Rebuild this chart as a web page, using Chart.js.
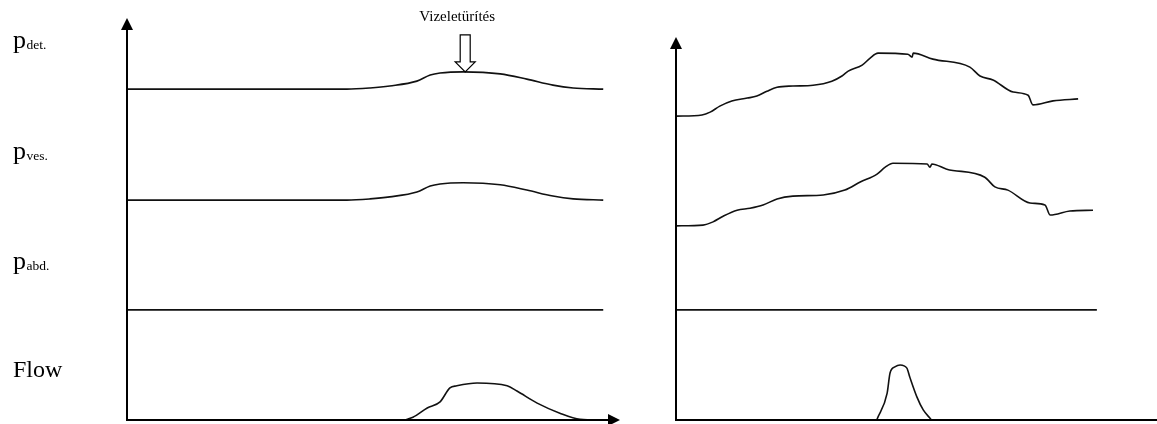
<!DOCTYPE html>
<html>
<head>
<meta charset="utf-8">
<script src="https://cdn.jsdelivr.net/npm/chart.js@4.4.1/dist/chart.umd.min.js"></script>
<style>
  body { margin: 0; background: #fff; }
  #wrap { position: relative; width: 1157px; height: 424px; }
  canvas { position: absolute; top: 0; }
  #normal { left: 0; width: 640px; height: 424px; }
  #abnormal { left: 640px; width: 517px; height: 424px; }
</style>
</head>
<body>
<div id="wrap">
  <canvas id="normal" width="640" height="424"></canvas>
  <canvas id="abnormal" width="517" height="424"></canvas>
</div>
<script>
// Left panel: normal voiding (time in arbitrary units 0-100, traces stacked on one level scale)
const leftTime = [0, 44.6, 49.3, 53.3, 58.8, 61.5, 63.5, 68.2, 75.7, 81.1, 86.4, 90.5, 96.6];
const leftDet = [82.3, 82.3, 82.6, 83.1, 84.3, 85.8, 86.3, 86.6, 86.1, 84.8, 83.3, 82.6, 82.3];
const leftVes = [54.7, 54.7, 55.0, 55.5, 56.7, 58.2, 58.7, 59.0, 58.5, 57.2, 55.7, 55.0, 54.7];
const leftAbdTime = [0, 96.6];
const leftAbd = [27.4, 27.4];
const leftFlowTime = [0, 55.8, 58.0, 60.9, 63.5, 65.5, 66.9, 71.0, 77.1, 79.1, 83.2, 87.8, 91.9, 96.6];
const leftFlow = [0, 0, 0.7, 3.0, 4.5, 8.0, 8.5, 9.2, 8.5, 7.2, 4.2, 1.7, 0.2, 0];

// Right panel: detrusor instability
const rightDetTime = [0, 5.4, 7.1, 9.1, 11.6, 14.8, 16.8, 18.9, 21.0, 24.3, 28.5, 32.4, 34.5, 35.8, 38.7, 40.3, 42.0, 48.2, 49.1, 49.3, 53.4, 61.1, 63.2, 65.9, 70.1, 73.2, 74.2, 78.4, 83.6];
const rightDet = [75.6, 75.9, 76.6, 78.1, 79.4, 80.1, 80.6, 81.8, 82.8, 83.1, 83.3, 84.3, 85.6, 86.8, 88.3, 90.0, 91.3, 91.0, 90.3, 91.3, 89.8, 87.8, 85.6, 84.6, 81.6, 80.8, 78.4, 79.4, 79.9];
const rightVesTime = [0, 5.6, 7.7, 9.8, 12.7, 15.4, 18.1, 21.0, 24.3, 30.6, 35.1, 38.3, 41.8, 43.5, 45.1, 52.2, 52.8, 53.2, 56.3, 64.2, 66.3, 69.0, 73.6, 76.7, 77.8, 81.9, 86.7];
const rightVes = [48.3, 48.5, 49.3, 50.7, 52.2, 52.7, 53.5, 55.0, 55.7, 56.0, 57.2, 59.2, 61.2, 62.9, 63.9, 63.7, 62.9, 63.7, 62.4, 60.4, 58.0, 57.2, 54.0, 53.5, 51.0, 52.0, 52.2];
const rightAbdTime = [0, 87.5];
const rightAbd = [27.4, 27.4];
const rightFlowTime = [41.8, 43.9, 44.5, 45.5, 46.6, 48.0, 48.6, 50.1, 51.4, 53.0];
const rightFlow = [0.2, 6.7, 11.7, 13.2, 13.7, 12.9, 10.7, 5.7, 2.5, 0.2];

// channel labels and the level each trace rests on
const labelMain = ['p', 'p', 'p', 'Flow'];
const labelSub = ['det.', 'ves.', 'abd.', ''];
const labelLevel = [82.3, 54.7, 27.4, 0];

const voidingText = 'Vizeletürítés';
const voidingAt = 68.6;

function zip(xs, ys) {
    return xs.map(function(x, i) { return { x: x, y: ys[i] }; });
}

function trace(xs, ys) {
    return {
        data: zip(xs, ys),
        borderColor: '#111',
        borderWidth: 1.6,
        pointRadius: 0,
        cubicInterpolationMode: 'monotone',
        clip: false,
        fill: false
    };
}

// Draw the two axes with arrow heads
const axisArrows = {
    id: 'axisArrows',
    afterDatasetsDraw(chart, args, opts) {
        const ctx = chart.ctx;
        const a = chart.chartArea;
        ctx.save();
        ctx.strokeStyle = '#000';
        ctx.fillStyle = '#000';
        ctx.lineWidth = 2;
        ctx.beginPath();
        ctx.moveTo(a.left, a.bottom);
        ctx.lineTo(a.left, a.top + 8);
        ctx.moveTo(a.left - 1, a.bottom);
        ctx.lineTo(opts.xArrow ? a.right - 8 : a.right, a.bottom);
        ctx.stroke();

        ctx.beginPath();
        ctx.moveTo(a.left, a.top);
        ctx.lineTo(a.left - 6, a.top + 12);
        ctx.lineTo(a.left + 6, a.top + 12);
        ctx.closePath();
        ctx.fill();

        if (opts.xArrow) {
            ctx.beginPath();
            ctx.moveTo(a.right, a.bottom);
            ctx.lineTo(a.right - 12, a.bottom - 6);
            ctx.lineTo(a.right - 12, a.bottom + 6);
            ctx.closePath();
            ctx.fill();
        }
        ctx.restore();
    }
};

// Channel names on the left and the voiding marker
const channelLabels = {
    id: 'channelLabels',
    afterDraw(chart) {
        const ctx = chart.ctx;
        const xs = chart.scales.x;
        const ys = chart.scales.y;
        ctx.save();
        ctx.fillStyle = '#000';
        ctx.textBaseline = 'alphabetic';
        labelMain.forEach(function(main, i) {
            const base = ys.getPixelForValue(labelLevel[i]) - (labelSub[i] ? 41 : 43);
            ctx.font = (labelSub[i] ? 26 : 24) + 'px "Liberation Serif", "Times New Roman", serif';
            ctx.fillText(main, 13, base);
            if (labelSub[i]) {
                const w = ctx.measureText(main).width;
                ctx.font = '13.5px "Liberation Serif", "Times New Roman", serif';
                ctx.fillText(labelSub[i], 13 + w + 0.5, base + 1);
            }
        });

        // hollow arrow pointing at the detrusor curve
        const px = xs.getPixelForValue(voidingAt);
        const tip = ys.getPixelForValue(86.6);
        ctx.beginPath();
        ctx.moveTo(px - 5, tip - 37);
        ctx.lineTo(px + 5, tip - 37);
        ctx.lineTo(px + 5, tip - 10);
        ctx.lineTo(px + 10, tip - 10);
        ctx.lineTo(px, tip);
        ctx.lineTo(px - 10, tip - 10);
        ctx.lineTo(px - 5, tip - 10);
        ctx.closePath();
        ctx.fillStyle = '#fff';
        ctx.fill();
        ctx.strokeStyle = '#000';
        ctx.lineWidth = 1.2;
        ctx.stroke();

        ctx.fillStyle = '#000';
        ctx.font = '15px "Liberation Serif", "Times New Roman", serif';
        ctx.textAlign = 'center';
        ctx.fillText(voidingText, px - 8, tip - 51);
        ctx.restore();
    }
};

function baseOptions(yMax, padding, xArrow) {
    return {
        responsive: false,
        animation: false,
        layout: { padding: padding },
        plugins: {
            legend: { display: false },
            tooltip: { enabled: false },
            axisArrows: { xArrow: xArrow }
        },
        scales: {
            x: { type: 'linear', min: 0, max: 100, display: false },
            y: { type: 'linear', min: 0, max: yMax, display: false }
        }
    };
}

function createNormalChart() {
    const ctx = document.getElementById('normal').getContext('2d');
    new Chart(ctx, {
        type: 'line',
        data: {
            datasets: [
                trace(leftTime, leftDet),
                trace(leftTime, leftVes),
                trace(leftAbdTime, leftAbd),
                trace(leftFlowTime, leftFlow)
            ]
        },
        options: baseOptions(100, { left: 127, right: 20, top: 18, bottom: 4 }, true),
        plugins: [axisArrows, channelLabels]
    });
}

function createInstabilityChart() {
    const ctx = document.getElementById('abnormal').getContext('2d');
    new Chart(ctx, {
        type: 'line',
        data: {
            datasets: [
                trace(rightDetTime, rightDet),
                trace(rightVesTime, rightVes),
                trace(rightAbdTime, rightAbd),
                trace(rightFlowTime, rightFlow)
            ]
        },
        options: baseOptions(95.3, { left: 36, right: 0, top: 37, bottom: 4 }, false),
        plugins: [axisArrows]
    });
}

createNormalChart();
createInstabilityChart();
</script>
</body>
</html>
